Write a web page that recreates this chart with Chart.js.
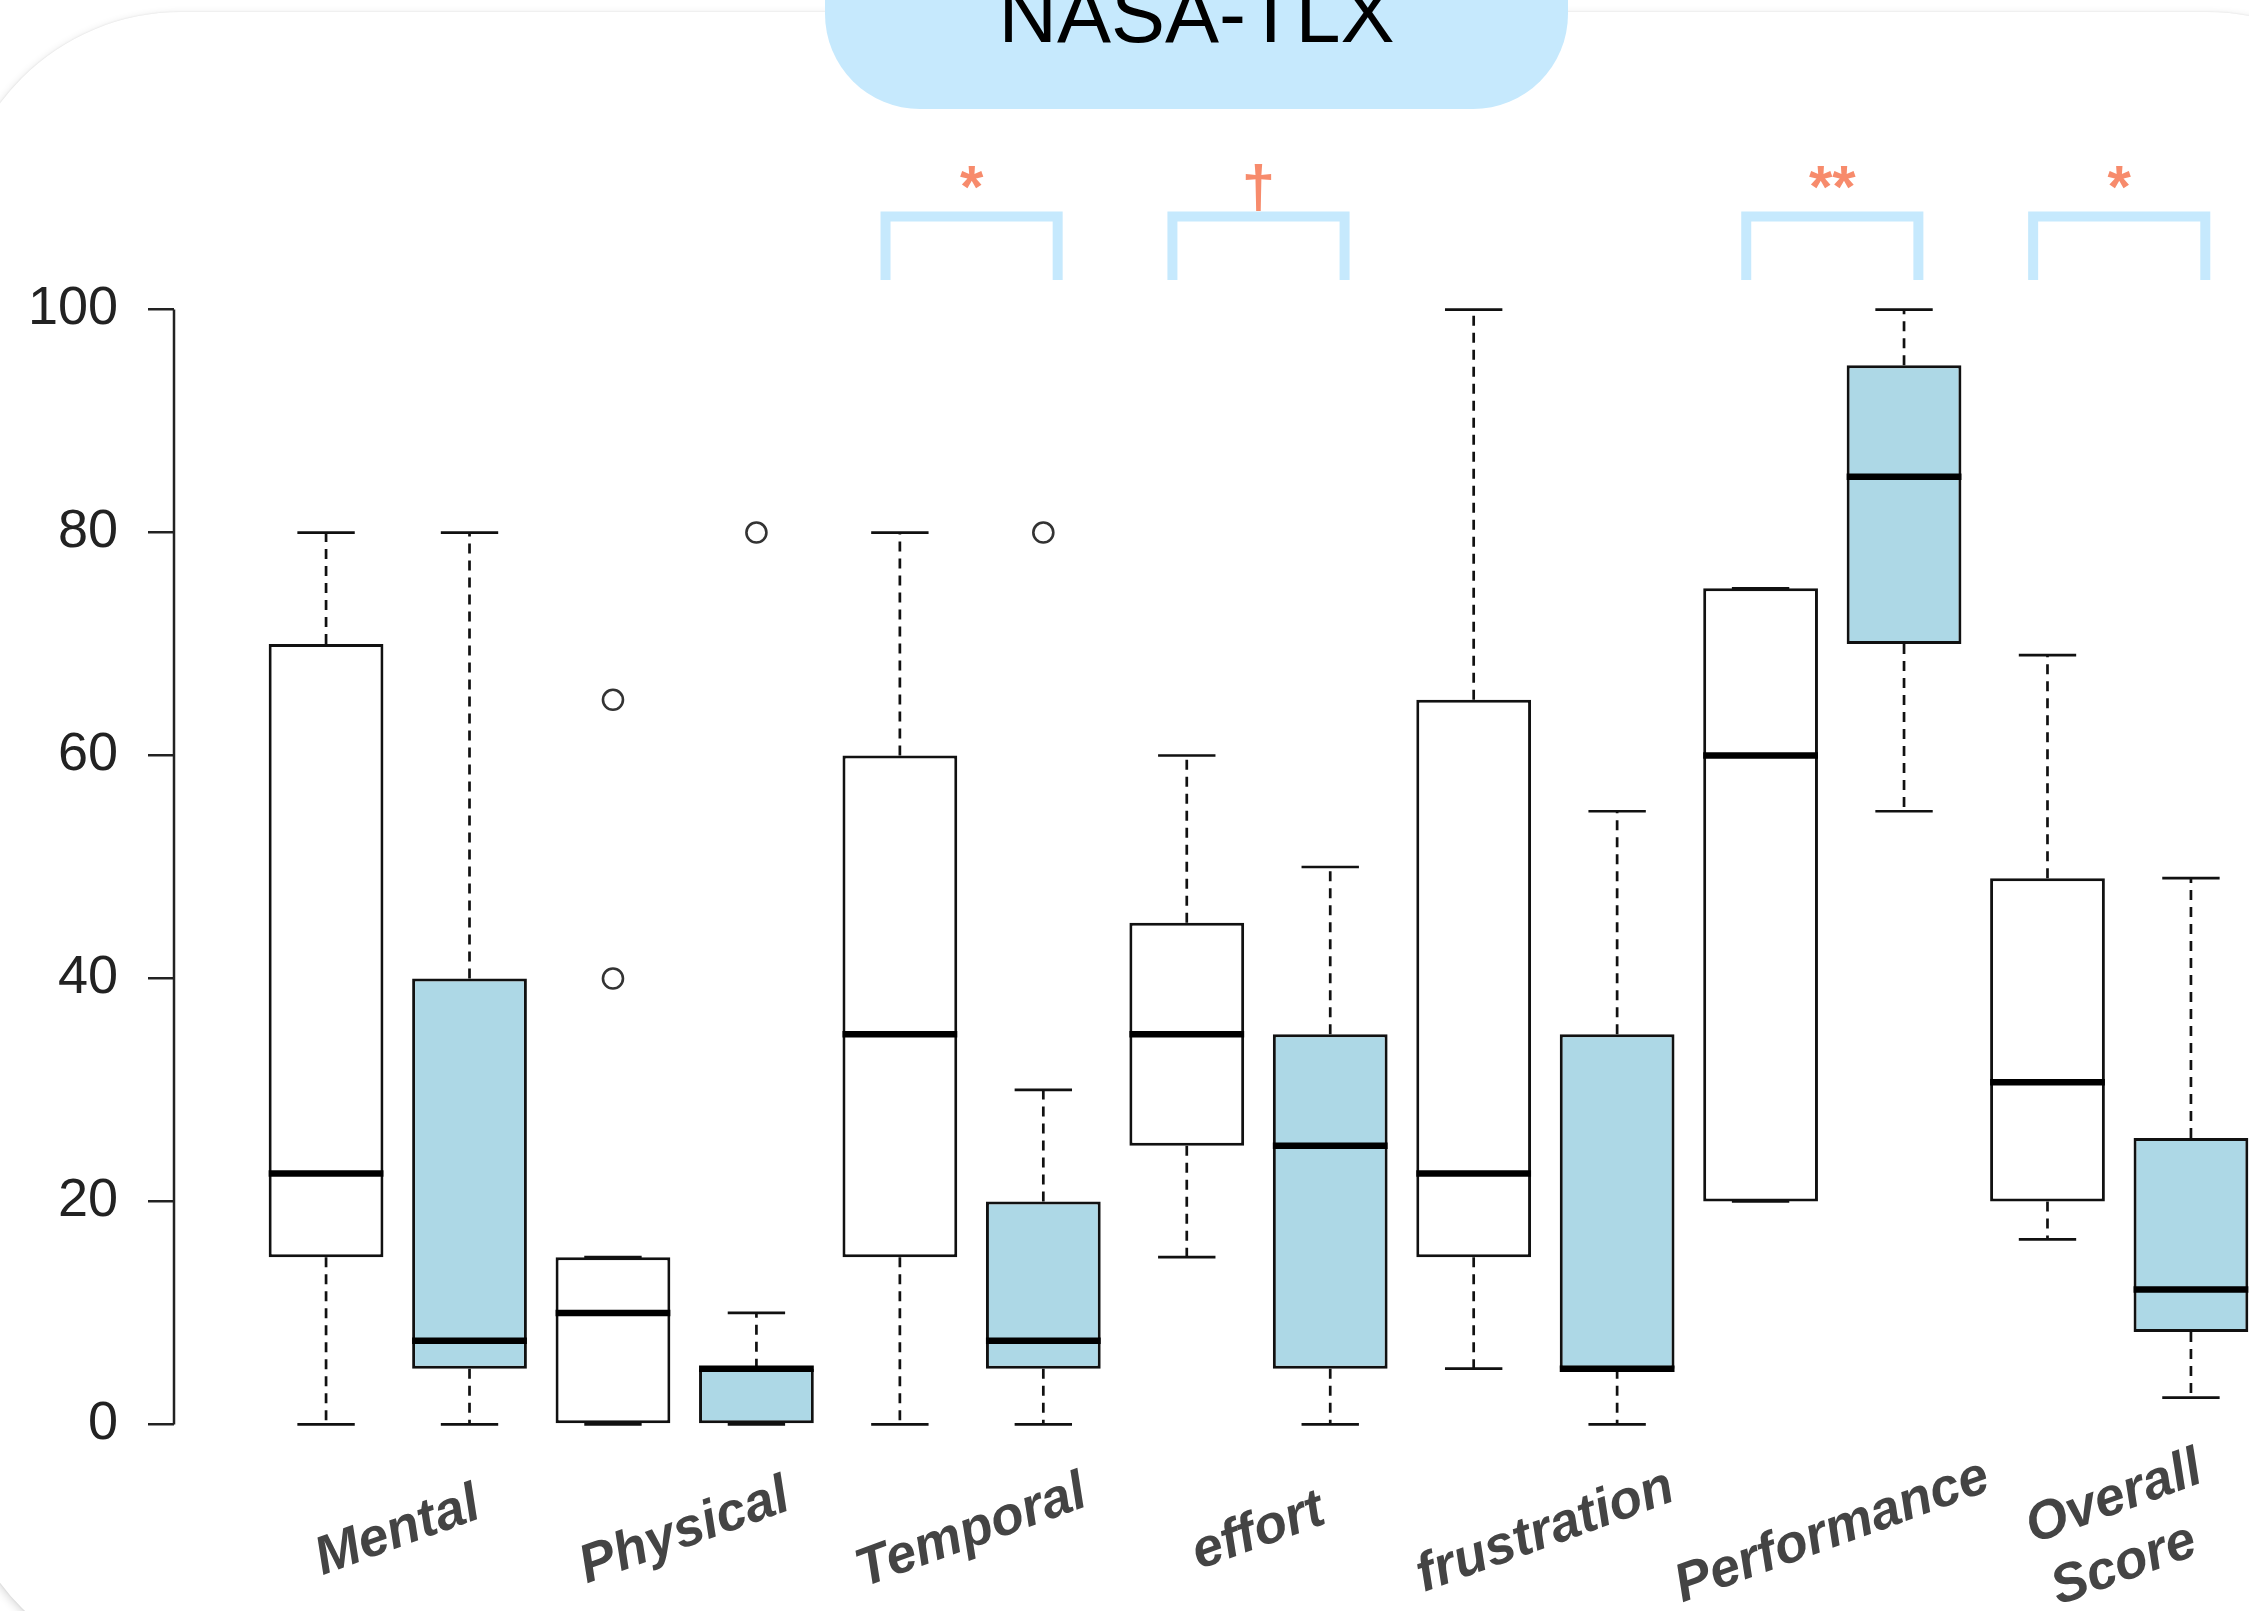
<!DOCTYPE html>
<html>
<head>
<meta charset="utf-8">
<title>NASA-TLX</title>
<script src="https://cdn.jsdelivr.net/npm/chart.js@4.4.1/dist/chart.umd.min.js"></script>
<style>
  html, body { margin: 0; padding: 0; width: 2249px; height: 1611px; overflow: hidden; background: #fff; }
  #card {
    position: absolute; left: -44px; top: 12px; width: 2476px; height: 1662px;
    border-radius: 225px; background: #fff;
    box-shadow: 0 3px 10px rgba(0,0,0,0.16), 0 0 2px rgba(0,0,0,0.10);
  }
  #wrap { position: absolute; left: 0; top: 0; width: 2400px; height: 1611px; z-index: 1; }
  #pill {
    position: absolute; left: 825px; top: -140px; width: 743px; height: 249px;
    border-radius: 95px; background: #c6e9fd; z-index: 2;
  }
  #title {
    position: absolute; left: 825px; width: 743px; top: -26px; z-index: 3;
    text-align: center; color: #000;
    font-family: "Liberation Sans", Arial, sans-serif; font-size: 81px; line-height: 1;
  }
</style>
</head>
<body>
<div id="card"></div>
<div id="wrap"><canvas id="chart" width="2400" height="1611"></canvas></div>
<div id="pill"></div>
<div id="title">NASA-TLX</div>

<script>
// NASA-TLX subscales, each with a pair of boxes (white, then shaded)
const groupLabels = ['Mental', 'Physical', 'Temporal', 'effort', 'frustration', 'Performance', ['Overall', 'Score']];

// white boxes: five-number summaries and outliers
const aMin = [0,    0,  0,  15, 5,    20, 16.6];
const aQ1  = [15,   0,  15, 25, 15,   20, 20];
const aMed = [22.5, 10, 35, 35, 22.5, 60, 30.7];
const aQ3  = [70,   15, 60, 45, 65,   75, 49];
const aMax = [80,   15, 80, 60, 100,  75, 69];
const aOut = [[], [65, 40], [], [], [], [], []];

// shaded boxes: five-number summaries and outliers
const bMin = [0,   0,  0,   0,  0,  55,  2.4];
const bQ1  = [5,   0,  5,   5,  5,  70,  8.3];
const bMed = [7.5, 5,  7.5, 25, 5,  85,  12.1];
const bQ3  = [40,  5,  20,  35, 35, 95,  25.7];
const bMax = [80,  10, 30,  50, 55, 100, 49];
const bOut = [[], [80], [80], [], [], [], []];

// significance of the paired comparison per subscale
const sigMarks = ['', '', '*', '\u2020', '', '**', '*'];

const yTicks = [0, 20, 40, 60, 80, 100];

const FONT = '"Liberation Sans", Arial, Helvetica, sans-serif';
const INK = '#111';
const BOX_HALF = 0.4;   // half box width, x units
const CAP_HALF = 0.2;   // half staple width, x units

const posA = i => 2 * i + 1;
const posB = i => 2 * i + 2;

function boxData(q1, q3, pos) {
  return q1.map((v, i) => ({ x: pos(i), y: [v, q3[i]] }));
}
function outlierData(out, pos) {
  const pts = [];
  out.forEach((vals, i) => vals.forEach(v => pts.push({ x: pos(i), y: v })));
  return pts;
}

const series = [
  { pos: posA, min: aMin, q1: aQ1, med: aMed, q3: aQ3, max: aMax },
  { pos: posB, min: bMin, q1: bQ1, med: bMed, q3: bQ3, max: bMax }
];

// whiskers, staples, medians, axis line, labels and significance brackets
const boxplotParts = {
  id: 'boxplotParts',
  beforeDatasetsDraw(chart) {
    const { ctx, scales: { x, y } } = chart;
    ctx.save();
    ctx.strokeStyle = INK;
    ctx.lineWidth = 2.7;
    series.forEach(s => {
      s.q1.forEach((q1, i) => {
        const px = x.getPixelForValue(s.pos(i));
        ctx.setLineDash([10, 7]);
        ctx.beginPath();
        if (s.max[i] > s.q3[i]) {
          ctx.moveTo(px, y.getPixelForValue(s.q3[i]));
          ctx.lineTo(px, y.getPixelForValue(s.max[i]));
        }
        if (s.min[i] < q1) {
          ctx.moveTo(px, y.getPixelForValue(q1));
          ctx.lineTo(px, y.getPixelForValue(s.min[i]));
        }
        ctx.stroke();
        ctx.setLineDash([]);
        ctx.beginPath();
        [s.max[i], s.min[i]].forEach(v => {
          const py = y.getPixelForValue(v);
          ctx.moveTo(x.getPixelForValue(s.pos(i) - CAP_HALF), py);
          ctx.lineTo(x.getPixelForValue(s.pos(i) + CAP_HALF), py);
        });
        ctx.stroke();
      });
    });
    ctx.restore();
  },
  afterDatasetsDraw(chart) {
    const { ctx, scales: { x, y } } = chart;
    ctx.save();
    ctx.strokeStyle = '#000';
    ctx.lineWidth = 6.5;
    ctx.lineCap = 'butt';
    series.forEach(s => {
      s.med.forEach((m, i) => {
        const py = y.getPixelForValue(m);
        ctx.beginPath();
        ctx.moveTo(x.getPixelForValue(s.pos(i) - BOX_HALF), py);
        ctx.lineTo(x.getPixelForValue(s.pos(i) + BOX_HALF), py);
        ctx.stroke();
      });
    });
    ctx.restore();
  },
  afterDraw(chart) {
    const { ctx, chartArea, scales: { x, y } } = chart;
    ctx.save();

    // y axis line spanning the tick range
    ctx.strokeStyle = '#222';
    ctx.lineWidth = 2.5;
    ctx.beginPath();
    ctx.moveTo(chartArea.left, y.getPixelForValue(yTicks[0]));
    ctx.lineTo(chartArea.left, y.getPixelForValue(yTicks[yTicks.length - 1]));
    ctx.stroke();

    // slanted subscale names under each pair
    ctx.fillStyle = '#444';
    ctx.font = 'italic bold 54px ' + FONT;
    ctx.textAlign = 'center';
    ctx.textBaseline = 'middle';
    const lineStep = { dx: 10, dy: 67 };
    const angle = -20 * Math.PI / 180;
    groupLabels.forEach((lab, i) => {
      const lines = Array.isArray(lab) ? lab : [lab];
      const cx = x.getPixelForValue(2 * i + 1.5);
      const cy = chartArea.bottom + 63;
      lines.forEach((t, k) => {
        const f = k - (lines.length - 1) / 2;
        ctx.save();
        ctx.translate(cx + f * lineStep.dx, cy + f * lineStep.dy);
        ctx.rotate(angle);
        ctx.fillText(t, 0, 0);
        ctx.restore();
      });
    });

    // significance brackets and marks
    sigMarks.forEach((mark, i) => {
      if (!mark) return;
      const xl = x.getPixelForValue(posA(i) - 0.1);
      const xr = x.getPixelForValue(posB(i) + 0.1);
      const yTop = y.getPixelForValue(108.35);
      const yBot = y.getPixelForValue(102.66);
      ctx.strokeStyle = '#c6e9fd';
      ctx.lineWidth = 10;
      ctx.lineJoin = 'miter';
      ctx.lineCap = 'butt';
      ctx.beginPath();
      ctx.moveTo(xl, yBot);
      ctx.lineTo(xl, yTop);
      ctx.lineTo(xr, yTop);
      ctx.lineTo(xr, yBot);
      ctx.stroke();

      ctx.fillStyle = '#f78b6c';
      ctx.font = 'bold 60px ' + FONT;
      ctx.textAlign = 'center';
      ctx.textBaseline = 'alphabetic';
      ctx.fillText(mark, x.getPixelForValue(2 * i + 1.5), y.getPixelForValue(109.2));
    });

    ctx.restore();
  }
};

const barStyle = {
  borderColor: INK,
  borderWidth: 3,
  borderSkipped: false,
  grouped: false,
  barPercentage: 2 * BOX_HALF,
  categoryPercentage: 1
};

new Chart(document.getElementById('chart'), {
  type: 'bar',
  data: {
    datasets: [
      Object.assign({ label: 'white', data: boxData(aQ1, aQ3, posA), backgroundColor: '#ffffff' }, barStyle),
      Object.assign({ label: 'shaded', data: boxData(bQ1, bQ3, posB), backgroundColor: '#add8e6' }, barStyle),
      {
        type: 'scatter',
        label: 'outliers',
        data: outlierData(aOut, posA).concat(outlierData(bOut, posB)),
        pointRadius: 10,
        pointBorderWidth: 2.6,
        pointBackgroundColor: 'rgba(0,0,0,0)',
        pointBorderColor: '#333',
        order: -1
      }
    ]
  },
  options: {
    responsive: false,
    animation: false,
    events: [],
    layout: { padding: { left: 0, top: 265, right: 57, bottom: 142 } },
    plugins: { legend: { display: false }, tooltip: { enabled: false } },
    scales: {
      x: { type: 'linear', min: -0.06, max: 15.06, offset: false, display: false },
      y: {
        min: -4, max: 104,
        afterFit(scale) { scale.width = 174; },
        afterBuildTicks(scale) { scale.ticks = yTicks.map(v => ({ value: v })); },
        ticks: { color: '#222', padding: 30, font: { family: FONT, size: 54 } },
        grid: { drawOnChartArea: false, drawTicks: true, tickLength: 26, color: '#222', lineWidth: 2.5 },
        border: { display: false }
      }
    }
  },
  plugins: [boxplotParts]
});
</script>
</body>
</html>
